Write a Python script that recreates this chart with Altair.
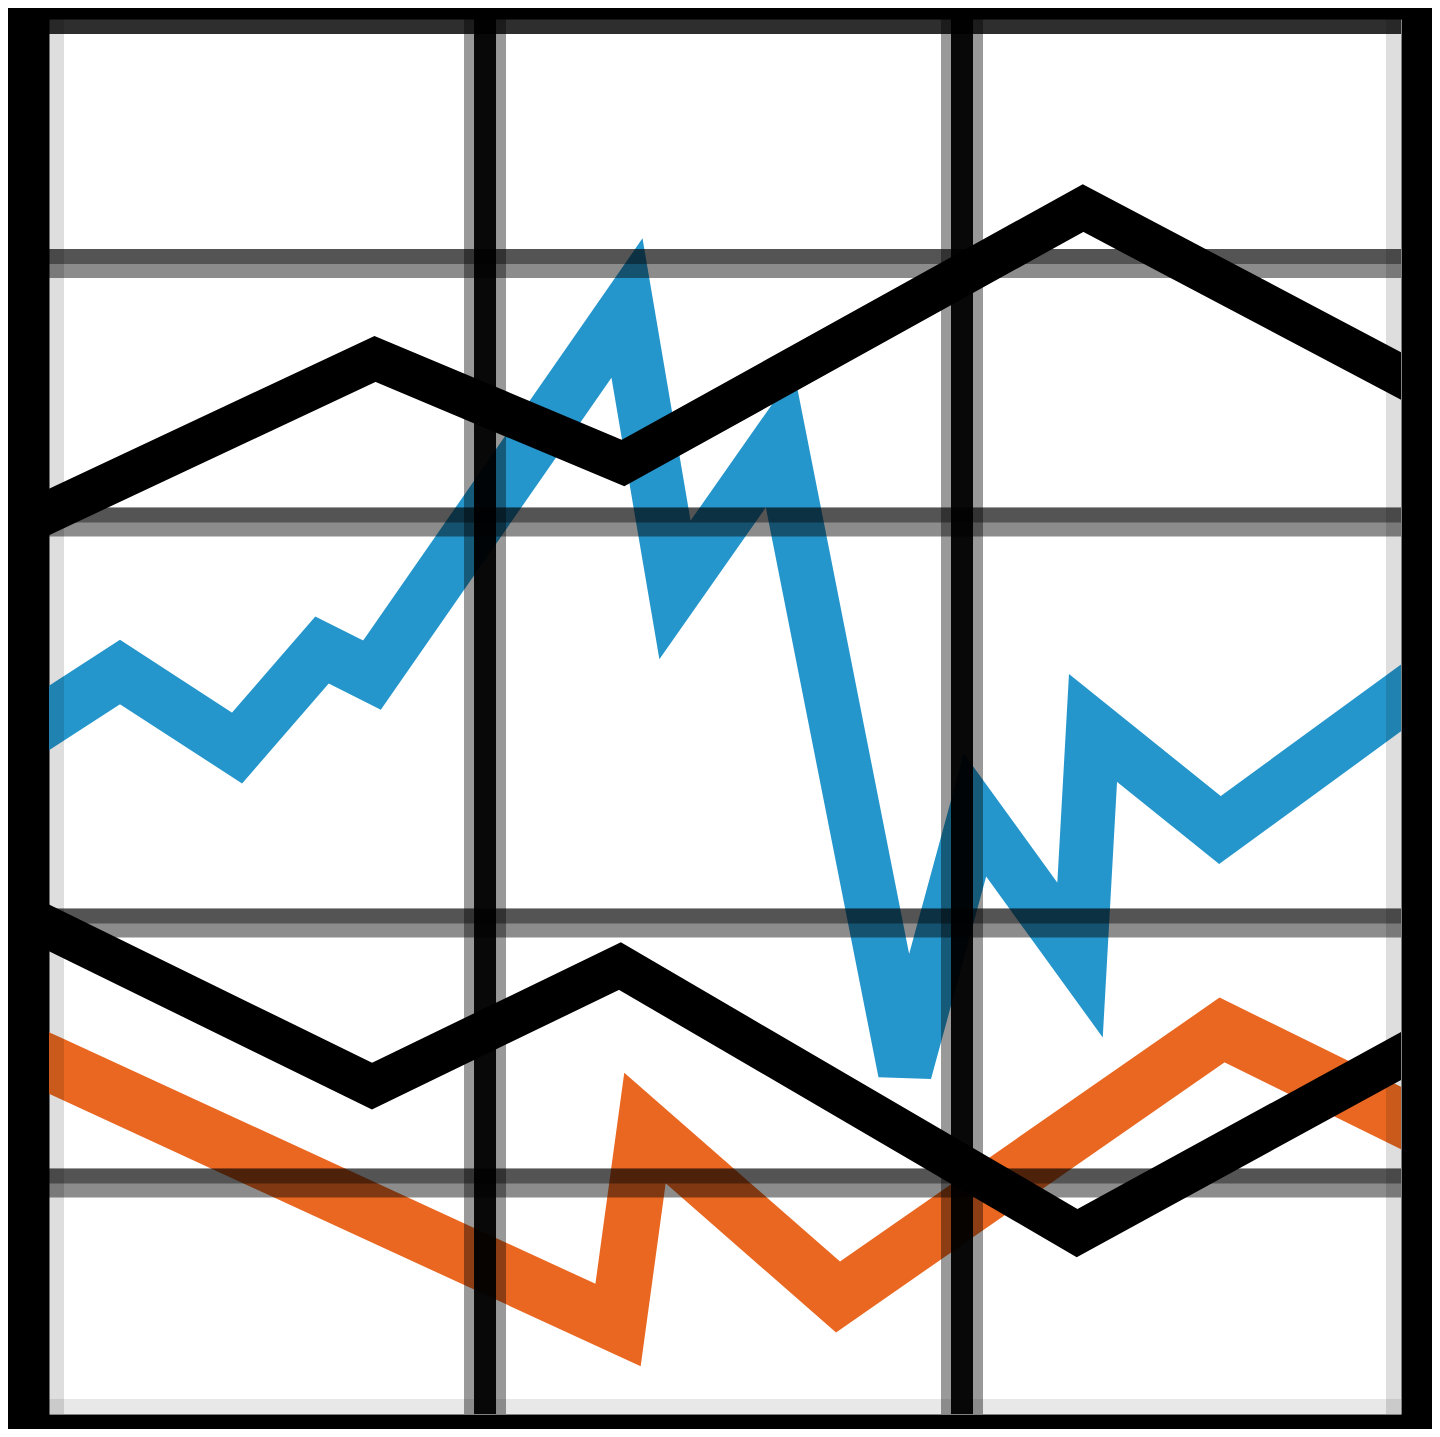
import altair as alt
import pandas as pd

# ---- data (0-100 units on both axes) ----
black_top_x = [0, 24.11, 42.46, 76.48, 100]
black_top_y = [64.66, 75.63, 68.17, 86.45, 74.41]

black_bottom_x = [0, 23.89, 42.23, 76.04, 100]
black_bottom_y = [34.84, 23.51, 32.11, 12.97, 25.66]

orange_x = [0, 42.09, 44.08, 58.36, 86.76, 100]
orange_y = [25.16, 6.38, 20.50, 8.39, 27.53, 21.22]

blue_x = [0, 5.25, 13.91, 20.19, 23.89, 42.75, 46.30, 54.07, 63.31, 68.49, 76.26, 77.22, 86.61, 100]
blue_y = [49.89, 53.19, 47.74, 54.77, 52.97, 79.28, 59.07, 69.82, 24.52, 42.94, 32.54, 49.18, 41.86, 51.33]

h_grid = [82.47, 63.94, 35.20, 16.56]
v_grid = [32.25, 67.53]
frame_top = [100]
frame_bottom = [0]
frame_sides = [0, 100]

xs = alt.Scale(domain=[0, 100], nice=False, zero=False)
ys = alt.Scale(domain=[0, 100], nice=False, zero=False)


def line_layer(xv, yv, color, width):
    df = pd.DataFrame({"x": xv, "y": yv, "i": list(range(len(xv)))})
    return alt.Chart(df).mark_line(
        color=color, strokeWidth=width, strokeJoin="miter",
        strokeMiterLimit=4, strokeCap="square", clip=True
    ).encode(
        x=alt.X("x:Q", scale=xs, axis=None),
        y=alt.Y("y:Q", scale=ys, axis=None),
        order=alt.Order("i:Q"),
    )


blue = line_layer(blue_x, blue_y, "#2596cc", 54)
orange = line_layer(orange_x, orange_y, "#e96721", 56)
btop = line_layer(black_top_x, black_top_y, "#000000", 42)
bbot = line_layer(black_bottom_x, black_bottom_y, "#000000", 42)

hdf = pd.DataFrame({"y": h_grid})
h1 = alt.Chart(hdf).mark_rule(color="black", strokeWidth=29, opacity=0.45).encode(
    y=alt.Y("y:Q", scale=ys, axis=None))
h2 = alt.Chart(hdf).mark_rule(color="black", strokeWidth=15, opacity=0.4, yOffset=-7).encode(
    y=alt.Y("y:Q", scale=ys, axis=None))

vdf = pd.DataFrame({"x": v_grid})
v1 = alt.Chart(vdf).mark_rule(color="black", strokeWidth=42, opacity=0.4).encode(
    x=alt.X("x:Q", scale=xs, axis=None))
v2 = alt.Chart(vdf).mark_rule(color="black", strokeWidth=22, opacity=0.95).encode(
    x=alt.X("x:Q", scale=xs, axis=None))

ftop = alt.Chart(pd.DataFrame({"y": frame_top})).mark_rule(
    color="black", strokeWidth=30, opacity=0.82, clip=True).encode(
    y=alt.Y("y:Q", scale=ys, axis=None))
fbot = alt.Chart(pd.DataFrame({"y": frame_bottom})).mark_rule(
    color="black", strokeWidth=30, opacity=0.09, clip=True).encode(
    y=alt.Y("y:Q", scale=ys, axis=None))
fside = alt.Chart(pd.DataFrame({"x": frame_sides})).mark_rule(
    color="black", strokeWidth=30, opacity=0.13, clip=True).encode(
    x=alt.X("x:Q", scale=xs, axis=None))

chart = alt.layer(
    blue, orange, btop, bbot, h1, h2, v1, v2, ftop, fbot, fside
).properties(
    width=1352,
    height=1395,
    padding={"left": 41, "top": 11, "right": 31, "bottom": 15},
    autosize=alt.AutoSizeParams(type="none"),
    background="black",
).configure_view(
    fill="white", stroke="transparent"
)

chart.save("out.html", embed_options={"renderer": "svg", "actions": False})
